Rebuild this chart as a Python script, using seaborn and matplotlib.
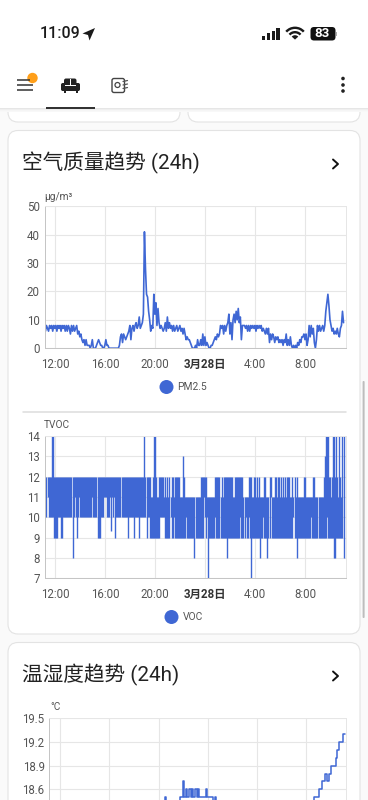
import matplotlib

matplotlib.use("Agg")
import matplotlib.pyplot as plt
import numpy as np
import pandas as pd
import seaborn as sns
from matplotlib.patches import Circle, FancyBboxPatch, Polygon, Rectangle, Wedge

BLUE = "#3f67d4"
GRID = "#e6e6e6"
TEXT = "#555555"

hour_ticks = [12, 16, 20, 24, 28, 32]
hour_labels = ["12:00", "16:00", "20:00", "3月28日", "4:00", "8:00"]

pm25 = [
    7, 6, 8, 7, 6, 8, 7, 8, 6, 8, 7, 8, 6, 8, 7, 8, 6, 8, 7, 8, 6, 8, 6, 8,
    7, 5, 8, 6, 8, 6, 7, 8, 5, 6, 4, 5, 3, 2, 3, 1, 3, 1, 1, 1, 0, 1, 3, 0,
    0, 0, 1, 2, 3, 2, 1, 1, 0, 0, 1, 3, 1, 1, 0, 0, 0, 0, 0, 0, 0, 0, 0, 0,
    1, 4, 5, 2, 5, 4, 3, 4, 5, 6, 8, 3, 7, 8, 6, 8, 9, 7, 8, 11, 7, 8, 9, 12,
    41, 28, 19, 18, 13, 10, 6, 8, 7, 19, 12, 16, 8, 14, 9, 7, 8, 7, 6, 7, 9, 6, 11, 7,
    9, 7, 8, 6, 8, 6, 7, 8, 6, 7, 8, 6, 7, 5, 7, 5, 3, 4, 3, 3, 2, 1, 0, 0,
    0, 1, 0, 3, 1, 1, 3, 1, 5, 1, 4, 1, 2, 1, 0, 0, 1, 1, 2, 3, 4, 3, 5, 4,
    5, 8, 7, 8, 5, 8, 6, 8, 9, 12, 5, 9, 3, 10, 12, 9, 13, 10, 14, 9, 11, 3, 8, 8,
    8, 7, 8, 6, 8, 6, 8, 7, 8, 7, 8, 6, 8, 7, 8, 7, 8, 6, 7, 6, 5, 7, 5, 7,
    2, 5, 3, 5, 4, 2, 4, 3, 4, 2, 3, 2, 3, 1, 3, 2, 5, 1, 3, 1, 4, 1, 0, 1,
    0, 1, 0, 2, 1, 3, 2, 4, 4, 5, 3, 5, 1, 3, 8, 4, 8, 5, 7, 2, 0, 3, 8, 6,
    8, 6, 7, 8, 6, 8, 13, 16, 19, 15, 10, 8, 6, 7, 5, 6, 5, 7, 5, 4, 7, 8, 13, 9,
]

voc_low = [
    10, 10, 10, 11, 10, 10, 10, 10, 10, 9, 9, 9, 9, 10, 10, 10, 9, 9, 10, 10, 10, 10, 10, 10,
    10, 10, 10, 8, 10, 11, 10, 9, 10, 11, 10, 10, 10, 10, 10, 10, 10, 10, 10, 10, 10, 10, 11, 10,
    10, 10, 10, 9, 9, 9, 10, 10, 10, 11, 11, 11, 10, 10, 10, 11, 9.3, 11, 10, 11, 9, 10, 10, 10,
    10, 10, 10, 10, 10, 10, 10, 10, 9, 10, 10, 10, 10, 10, 9, 10, 10, 10, 10, 9, 10, 10, 10, 10,
    10, 10, 9, 10, 10, 9, 9, 9, 9, 9, 9, 9, 9, 9, 9, 10, 10, 10, 10, 10, 9, 9, 9, 9,
    9, 10, 9, 9, 10, 9, 9, 9, 9, 9, 9, 9, 9, 9, 9, 9, 10, 9, 9, 9, 9, 9, 9, 9,
    8, 9, 9, 9, 9, 9, 9, 9, 9, 11, 10, 9, 10, 7, 9, 9, 9, 9, 9, 9, 10, 9, 9, 9,
    9, 9, 9, 9, 9, 9, 9, 8, 9, 9, 9, 9, 9, 9, 9, 9, 9, 9, 9, 9, 10, 9, 9, 9,
    9, 10, 9, 9, 10, 9, 7, 9, 9, 9, 9, 9, 9, 9, 9, 8, 9, 9, 10, 9, 9, 9, 8, 9,
    9, 11, 9, 9, 9, 9, 9, 9, 9, 9, 9, 9, 9, 9, 9, 9, 9, 9, 9, 9, 9, 9, 9, 10,
    9, 9, 8, 9, 9, 9, 9, 9, 9, 9, 9, 9, 9, 9, 9, 9, 10, 9, 9, 9, 9, 9, 9, 9,
    9, 9, 9, 9, 9, 9, 9, 10, 9, 9, 9, 9, 9, 9, 8, 8, 9, 9, 9, 9, 9, 9, 9, 8,
]

voc_high = [
    12, 12, 12, 12, 12, 12, 12, 14, 14, 12, 12, 12, 12, 12, 12, 12, 12, 12, 12, 12, 12, 12, 12, 12,
    12, 12, 12, 12, 12, 12, 12, 12, 12, 12, 12, 12, 12, 12, 12, 12, 12, 12, 12, 12, 12, 12, 12, 12,
    12, 12, 12, 12, 12, 12, 12, 12, 12, 12, 12, 12, 12, 12, 12, 12, 12, 12, 12, 12, 12, 12, 12, 12,
    12, 12, 12, 12, 12, 12, 12, 12, 12, 12, 12, 12, 12, 12, 12, 12, 12, 12, 12, 12, 12, 12, 12, 12,
    14, 12, 12, 12, 12, 12, 11, 11, 12, 14, 14, 12, 11, 11, 12, 12, 12, 12, 12, 11, 12, 11, 12, 11,
    12, 11, 12, 12, 11, 12, 12, 12, 12, 12, 11, 11, 11, 13, 12, 11, 11, 11, 11, 11, 11, 11, 11, 11,
    11, 11, 11, 11, 11, 11, 12, 12, 12, 12, 12, 12, 11, 11, 11, 11, 11, 11, 11, 11, 12, 12, 12, 12,
    12, 11, 12, 11, 12, 12, 12, 12, 12, 12, 12, 12, 12, 11, 11, 12, 12, 12, 12, 12, 12, 12, 12, 11,
    11, 11, 11, 11, 12, 12, 12, 11, 11, 12, 12, 11, 12, 11, 12, 11, 11, 11, 11, 12, 12, 11, 11, 11,
    12, 12, 11, 11, 11, 12, 12, 11, 12, 12, 11, 12, 11, 12, 11, 12, 11, 12, 12, 12, 11, 11, 12, 11,
    12, 11, 12, 11, 11, 11, 11, 11, 11, 12, 12, 11, 11, 11, 11, 11, 11, 11, 12, 12, 11, 11, 11, 11,
    11, 11, 11, 11, 12, 13, 14, 14, 14, 12, 12, 11, 12, 14, 14, 12, 14, 12, 11, 14, 12, 11, 14, 14,
]

temp_hours = [
    11.2, 20.51, 20.62, 21.73, 21.81, 21.95, 22.08, 22.22, 22.33, 22.49, 22.6, 22.73,
    22.82, 22.95, 23.09, 23.2, 23.3, 23.82, 23.95, 24.44, 24.57, 24.7, 24.84, 32.43,
    32.62, 33.06, 33.3, 33.57, 33.74, 33.87, 34.0, 34.41, 34.52, 34.69, 35.01, 35.15,
]
temp_values = [
    18.4, 18.5, 18.4, 18.5, 18.5, 18.7, 18.5, 18.6, 18.5, 18.6, 18.5, 18.6,
    18.5, 18.6, 18.5, 18.6, 18.5, 18.6, 18.5, 18.45, 18.5, 18.45, 18.3, 18.4,
    18.5, 18.6, 18.7, 18.8, 18.7, 18.8, 18.9, 19.0, 19.1, 19.2, 19.3, 19.3,
]

sample_hours = 11.15 + np.arange(len(pm25)) * 5 / 60


def px_axes(fig, left, top, right, bottom):
    return fig.add_axes([left / 368, 1 - bottom / 800, (right - left) / 368, (bottom - top) / 800])


def style_chart(ax, xlim, ylim, yticks, ylabels=None):
    ax.set_facecolor("none")
    ax.set_xlim(*xlim)
    ax.set_ylim(*ylim)
    ax.set_xticks(hour_ticks, hour_labels)
    ax.set_yticks(yticks, ylabels if ylabels else [str(t) for t in yticks])
    ax.set_xlabel("")
    ax.set_ylabel("")
    ax.grid(True, color=GRID, linewidth=0.8)
    ax.set_axisbelow(True)
    ax.tick_params(axis="both", labelsize=8.3, labelcolor=TEXT, color="#c4c4c4", length=2.5, width=0.7, pad=1)
    ax.tick_params(axis="x", length=0, pad=7)
    for side in ["top", "right"]:
        ax.spines[side].set_color(GRID)
        ax.spines[side].set_linewidth(0.7)
    for side in ["left", "bottom"]:
        ax.spines[side].set_color("#c4c4c4")
        ax.spines[side].set_linewidth(0.7)
    for lab in ax.get_xticklabels():
        if "月" in lab.get_text():
            lab.set_fontweight("bold")
            lab.set_color("#333333")


def card(bg, x0, y0, x1, y1):
    bg.add_patch(FancyBboxPatch((x0, y0), x1 - x0, y1 - y0, boxstyle="round,pad=0,rounding_size=10",
                                facecolor="white", edgecolor="#e3e3e3", linewidth=0.8))


def draw_chrome(bg):
    # cards behind the charts
    card(bg, 8, 80, 180, 122)
    card(bg, 188, 80, 360, 122)
    card(bg, 8, 130.5, 360, 634)
    card(bg, 8, 642.5, 360, 860)

    # white header with a soft shadow below it
    for i, shade in enumerate(["#e6e6e6", "#efefef", "#f5f5f5", "#f8f8f8"]):
        bg.add_patch(Rectangle((0, 108 + i), 368, 1, facecolor=shade, edgecolor="none"))
    bg.add_patch(Rectangle((0, 0), 368, 108, facecolor="white", edgecolor="none"))

    # status bar
    bg.text(40, 33.5, "11:09", fontsize=11.5, color="#1a1a1a", fontweight="medium", va="center", ha="left")
    bg.add_patch(Polygon([[82.5, 33.5], [95, 28], [89.5, 40.5], [88, 35]], facecolor="#1a1a1a", edgecolor="none"))
    for x, h in zip([261.5, 266.5, 271.5, 276], [4, 6.5, 9, 12]):
        bg.add_patch(Rectangle((x, 39.5 - h), 3.5, h, facecolor="#1a1a1a", edgecolor="none"))
    for r, inner in [(13, 2.4), (8.6, 2.4), (4.4, 4.4)]:
        bg.add_patch(Wedge((295, 39.6), r, 222, 318, width=inner, facecolor="#1a1a1a", edgecolor="none"))
    bg.add_patch(FancyBboxPatch((310.5, 27), 25, 13.5, boxstyle="round,pad=0,rounding_size=3.5",
                                facecolor="#111111", edgecolor="none"))
    bg.add_patch(Rectangle((336, 31.5), 1.2, 4.5, facecolor="#aaaaaa", edgecolor="none"))
    bg.text(322, 33.8, "83", fontsize=9.6, color="white", fontweight="bold", ha="center", va="center")

    # toolbar icons
    for y, x1 in [(80, 30), (85, 33), (89.5, 33)]:
        bg.plot([17, x1], [y, y], color="#333333", linewidth=1.1, solid_capstyle="butt")
    bg.add_patch(Circle((32.5, 78), 5.2, facecolor="#ff9f1a", edgecolor="none"))
    bg.add_patch(FancyBboxPatch((64, 78.5), 12.5, 7, boxstyle="round,pad=0,rounding_size=2",
                                facecolor="#222222", edgecolor="none"))
    bg.add_patch(FancyBboxPatch((61, 83), 19, 8, boxstyle="round,pad=0,rounding_size=1.8",
                                facecolor="#222222", edgecolor="none"))
    bg.add_patch(Rectangle((69.9, 78.5), 0.9, 6, facecolor="white", edgecolor="none"))
    bg.add_patch(Rectangle((64.8, 85), 11, 1.1, facecolor="white", edgecolor="none"))
    bg.add_patch(Rectangle((63.5, 91), 2, 1.8, facecolor="#222222", edgecolor="none"))
    bg.add_patch(Rectangle((75.5, 91), 2, 1.8, facecolor="#222222", edgecolor="none"))
    bg.add_patch(Rectangle((46, 107), 49, 1.6, facecolor="#333333", edgecolor="none"))
    bg.add_patch(FancyBboxPatch((112, 78.5), 12.5, 14, boxstyle="round,pad=0,rounding_size=2",
                                facecolor="none", edgecolor="#444444", linewidth=1))
    bg.add_patch(Circle((117.5, 85), 2.5, facecolor="none", edgecolor="#444444", linewidth=0.9))
    for y in [81.5, 85, 88.5]:
        bg.plot([123, 127.5], [y, y - 1], color="#555555", linewidth=0.9)
    for y in [78.5, 85, 91]:
        bg.add_patch(Circle((343, y), 1.8, facecolor="#222222", edgecolor="none"))

    # card titles and chevrons
    title_font = ["Roboto", "Noto Sans CJK SC", "DejaVu Sans"]
    bg.text(22.5, 163, "空气质量趋势 (24h)", fontsize=14.9, color="#222222", family=title_font, va="center")
    bg.text(22.5, 675, "温湿度趋势 (24h)", fontsize=14.9, color="#222222", family=title_font, va="center")
    for y in [164, 676]:
        bg.plot([333, 338, 333], [y - 4.5, y, y + 4.5], color="#111111", linewidth=1.4)

    # units, divider and legends
    bg.text(44, 197, "μg/m³", fontsize=7.3, color=TEXT, va="center")
    bg.text(44, 425, "TVOC", fontsize=7.3, color=TEXT, va="center")
    bg.text(50, 707.5, "°C", fontsize=7.3, color=TEXT, va="center")
    bg.plot([23, 346], [411.5, 411.5], color="#dddddd", linewidth=1.1)
    bg.add_patch(Circle((166.5, 387), 7, facecolor=BLUE, edgecolor="none"))
    bg.text(177, 387.5, "PM2.5", fontsize=7.4, color=TEXT, va="center")
    bg.add_patch(Circle((171.5, 617), 7, facecolor=BLUE, edgecolor="none"))
    bg.text(182.5, 617.5, "VOC", fontsize=7.4, color=TEXT, va="center")

    # scrollbar
    bg.add_patch(FancyBboxPatch((362.6, 381), 2, 237, boxstyle="round,pad=0,rounding_size=1",
                                facecolor="#bdbdbd", edgecolor="none"))


def main():
    sns.set_theme(style="white")
    plt.rcParams["font.family"] = ["Roboto", "Noto Sans CJK SC", "DejaVu Sans"]

    fig = plt.figure(figsize=(3.68, 8.0), dpi=100)
    fig.patch.set_facecolor("#fafafa")

    bg = fig.add_axes([0, 0, 1, 1])
    bg.set_xlim(0, 368)
    bg.set_ylim(800, 0)
    bg.axis("off")
    draw_chrome(bg)

    xlim = (11.16, 35.24)

    pm_df = pd.DataFrame({"hour": sample_hours, "pm25": pm25})
    ax1 = px_axes(fig, 44.5, 206.3, 345.7, 348.2)
    sns.lineplot(data=pm_df, x="hour", y="pm25", ax=ax1, color=BLUE, linewidth=1.2, estimator=None)
    style_chart(ax1, xlim, (0, 50), [0, 10, 20, 30, 40, 50])

    # one vertical stroke per sample, low to high, keeps the gaps of the band
    voc_df = pd.DataFrame({
        "hour": np.concatenate([sample_hours, sample_hours]),
        "voc": voc_low + voc_high,
        "step": list(range(len(voc_low))) * 2,
    }).sort_values(["step", "voc"])
    ax2 = px_axes(fig, 44.5, 436, 345.7, 578.2)
    sns.lineplot(data=voc_df, x="hour", y="voc", units="step", estimator=None, ax=ax2, color=BLUE,
                 linewidth=1.0, solid_capstyle="butt")
    style_chart(ax2, xlim, (7, 14), [7, 8, 9, 10, 11, 12, 13, 14])

    temp_df = pd.DataFrame({"hour": temp_hours, "temp": temp_values})
    ax3 = px_axes(fig, 49.5, 718.3, 345.6, 836.7)
    sns.lineplot(data=temp_df, x="hour", y="temp", ax=ax3, color=BLUE, linewidth=1.1, estimator=None,
                 drawstyle="steps-post")
    style_chart(ax3, (11.12, 35.22), (18.0, 19.5), [18.6, 18.9, 19.2, 19.5],
                ["18.6", "18.9", "19.2", "19.5"])
    ax3.tick_params(axis="x", labelbottom=False)

    fig.savefig("out.png", dpi=100, facecolor=fig.get_facecolor())
    plt.close(fig)


if __name__ == "__main__":
    main()
